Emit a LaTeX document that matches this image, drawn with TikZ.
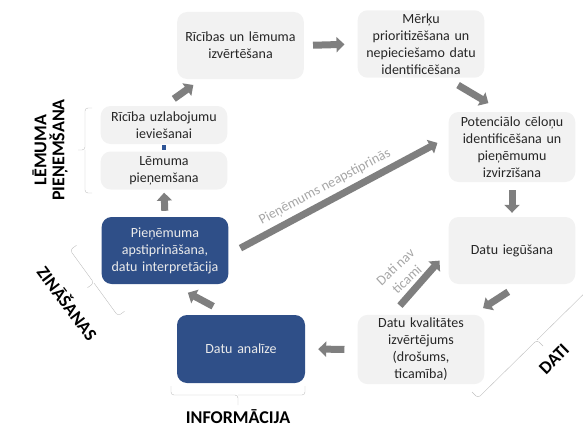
\documentclass[tikz,border=0pt]{standalone}
\usepackage{fontspec}
\setmainfont{Carlito}
\usetikzlibrary{arrows.meta}
\definecolor{boxgray}{HTML}{F2F2F2}
\definecolor{boxblue}{HTML}{2F4F88}
\definecolor{arrgray}{HTML}{7F7F7F}
\definecolor{lblgray}{HTML}{A6A6A6}
\definecolor{brkgray}{HTML}{BFBFBF}
\definecolor{dotblue}{HTML}{2F5597}
\begin{document}
\begin{tikzpicture}[x=1pt,y=-1pt,
    box/.style={rectangle, rounded corners=10pt, fill=boxgray, text=black!85,
      minimum width=126pt, minimum height=67pt, text width=120pt, align=center,
      font=\fontsize{14}{17}\selectfont},
    bluebox/.style={box, fill=boxblue, text=white!92!black},
    flat/.style={box, minimum height=38pt},
    pil/.style={arrgray, line width=7pt, -{Triangle[length=8pt,width=15pt]}},
    lbl/.style={lblgray, align=center, font=\fontsize{14}{17}\selectfont},
    captext/.style={align=center, font=\bfseries\fontsize{18}{18}\selectfont},
    brk/.style={brkgray, thin, rounded corners=3pt},
]
\useasboundingbox (0,0) rectangle (583,428);

\node [box] (ric) at (240.5,45.5){Rīcības un lēmuma\\izvērtēšana};
\node [box] (mer) at (421,44){Mērķu\\prioritizēšana un\\nepieciešamo datu\\identificēšana};
\node [box, minimum height=70pt] (pot) at (512,147){Potenciālo cēloņu\\identificēšana un\\pieņēmumu\\izvirzīšana};
\node [box] (ieg) at (512,250.5){Datu iegūšana};
\node [box] (kva) at (421,349.5){Datu kvalitātes\\izvērtējums\\(drošums,\\ticamība)};
\node [bluebox, minimum width=128pt, minimum height=68pt] (ana) at (241,349){Datu analīze};
\node [bluebox] (pie) at (165,250.5){Pieņēmuma\\apstiprināšana,\\datu interpretācija};
\node [flat] (lem) at (164,170.5){Lēmuma\\pieņemšana};
\node [flat] (uzl) at (164,125){Rīcība uzlabojumu\\ieviešanai};

\draw[pil, shorten <=9pt, shorten >=13pt] (ric.east) -- (mer.west);
\draw[pil, shorten <=14pt, shorten >=17pt] ([xshift=25pt]mer.south) -- ([xshift=-9pt]pot.north);
\draw[pil, shorten <=8pt, shorten >=4pt] (pot.south) -- (ieg.north);
\draw[pil, shorten <=14pt, shorten >=12pt] ([xshift=8pt]ieg.south) -- ([xshift=52pt]kva.north);
\draw[pil, shorten <=13pt, shorten >=13pt] (kva.west) -- (ana.east);
\draw[pil, shorten <=18pt, shorten >=18pt] ([xshift=-12pt]ana.north) -- ([xshift=7pt]pie.south);
\draw[pil, shorten <=6pt, shorten >=3pt] (pie.north) -- (lem.south);
\draw[pil, shorten <=12pt, shorten >=10pt] (uzl.north) -- ([xshift=-39pt]ric.south);
\draw[pil, shorten <=13.5pt, shorten >=12.5pt] ([yshift=-4pt]pie.east) -- ([yshift=10pt]pot.west);
\draw[pil, shorten <=12pt, shorten >=13.5pt] ([xshift=-29pt]kva.north) -- (ieg.west);
\draw[dotblue, line width=4pt, shorten <=1pt, shorten >=1pt] (uzl.south) -- (lem.north);

\node [lbl, rotate=28] (nea) at (325,187){Pieņēmums neapstiprinās};
\node [lbl, rotate=43] (tic) at (401,273){Dati nav\\ticami};

% iekavas
\draw[brk] (92,108) -| (85,150) -- (78,150);
\draw[brk] (85,150) |- (92,193);
\draw[brk] (76.5,245.3) -- (70,250) -- (94,283) -- (87.5,287.7);
\draw[brk] (94,283) -- (118,316) -- (124.5,311.3);
\draw[brk] (171,386) |- (238,395) -- (238,405);
\draw[brk] (238,395) -| (305,386);
\draw[brk] (472,392) -- (478,398) -- (537,340) -- (543,346);
\draw[brk] (537,340) -- (600,278);

\node [captext, rotate=90] (lemlbl) at (50,150){LĒMUMA\\PIEŅEMŠANA};
\node [captext, rotate=-53] (zin) at (68,303){ZINĀŠANAS};
\node [captext] (inf) at (238,416.5){INFORMĀCIJA};
\node [captext, rotate=45] (dati) at (554,359){DATI};

\end{tikzpicture}
\end{document}
